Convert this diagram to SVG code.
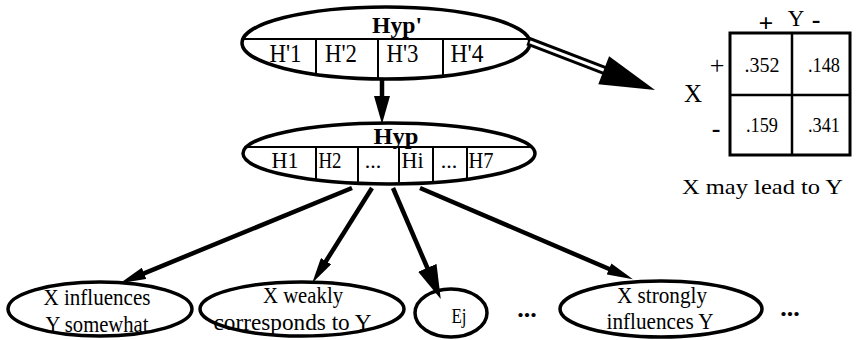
<svg xmlns="http://www.w3.org/2000/svg" width="856" height="340" viewBox="0 0 856 340">
<style>
.ell{fill:none;stroke:#000;stroke-width:3.5}
.cell{stroke:#000;stroke-width:2;fill:none}
.t{font-family:"Liberation Serif","Times New Roman",serif;fill:#000;text-anchor:middle}
.b{font-weight:bold}
.conn{stroke:#000;stroke-width:4.5;fill:none}
</style>
<defs>
<clipPath id="c1"><ellipse cx="386" cy="43" rx="144" ry="36"/></clipPath>
<clipPath id="c2"><ellipse cx="389" cy="153.5" rx="146" ry="30.5"/></clipPath>
<marker id="aS" markerUnits="userSpaceOnUse" markerWidth="26" markerHeight="12" refX="4" refY="6" orient="auto" viewBox="0 0 26 12"><path d="M0,0 L26,6 L0,12 z" fill="#000"/></marker>
<marker id="aM" markerUnits="userSpaceOnUse" markerWidth="28" markerHeight="16" refX="4" refY="8" orient="auto" viewBox="0 0 28 16"><path d="M0,0 L28,8 L0,16 z" fill="#000"/></marker>
<marker id="aL" markerUnits="userSpaceOnUse" markerWidth="34" markerHeight="20" refX="4" refY="10" orient="auto" viewBox="0 0 34 20"><path d="M0,0 L34,10 L0,20 z" fill="#000"/></marker>
</defs>

<g id="hyp-prime">
<ellipse class="ell" cx="386" cy="43" rx="144" ry="36"/>
<g clip-path="url(#c1)">
<line class="cell" x1="240" y1="39" x2="532" y2="39"/>
<line class="cell" x1="316" y1="39" x2="316" y2="80"/>
<line class="cell" x1="378" y1="39" x2="378" y2="80"/>
<line class="cell" x1="443" y1="39" x2="443" y2="80"/>
</g>
<text class="t b" x="397" y="33" font-size="23" textLength="50" lengthAdjust="spacingAndGlyphs">Hyp'</text>
<text class="t" x="285.5" y="62" font-size="25" textLength="32" lengthAdjust="spacingAndGlyphs">H'1</text>
<text class="t" x="341" y="62" font-size="25" textLength="32" lengthAdjust="spacingAndGlyphs">H'2</text>
<text class="t" x="402.5" y="62" font-size="25" textLength="32" lengthAdjust="spacingAndGlyphs">H'3</text>
<text class="t" x="467" y="62" font-size="25" textLength="33" lengthAdjust="spacingAndGlyphs">H'4</text>
</g>

<g id="hyp">
<ellipse class="ell" cx="389" cy="153.5" rx="146" ry="30.5"/>
<g clip-path="url(#c2)">
<line class="cell" x1="240" y1="147" x2="538" y2="147"/>
<line class="cell" x1="316" y1="147" x2="316" y2="186"/>
<line class="cell" x1="358" y1="147" x2="358" y2="186"/>
<line class="cell" x1="399" y1="147" x2="399" y2="186"/>
<line class="cell" x1="433" y1="147" x2="433" y2="186"/>
<line class="cell" x1="467" y1="147" x2="467" y2="186"/>
</g>
<text class="t b" x="396" y="144" font-size="24" textLength="45" lengthAdjust="spacingAndGlyphs">Hyp</text>
<text class="t" x="285" y="168" font-size="24" textLength="27" lengthAdjust="spacingAndGlyphs">H1</text>
<text class="t" x="330" y="168" font-size="24" textLength="23" lengthAdjust="spacingAndGlyphs">H2</text>
<text class="t" x="373" y="168" font-size="22">...</text>
<text class="t" x="412.5" y="168" font-size="24" textLength="22" lengthAdjust="spacingAndGlyphs">Hi</text>
<text class="t" x="449" y="168" font-size="22">...</text>
<text class="t" x="481" y="168" font-size="24" textLength="25" lengthAdjust="spacingAndGlyphs">H7</text>
</g>

<g id="table">
<rect x="730" y="33" width="120" height="122" fill="none" stroke="#000" stroke-width="3"/>
<line x1="792" y1="33" x2="792" y2="155" stroke="#000" stroke-width="2.5"/>
<line x1="730" y1="95" x2="850" y2="95" stroke="#000" stroke-width="2.5"/>
<text class="t" x="762" y="72" font-size="21" textLength="35" lengthAdjust="spacingAndGlyphs">.352</text>
<text class="t" x="824" y="72" font-size="21" textLength="32" lengthAdjust="spacingAndGlyphs">.148</text>
<text class="t" x="762" y="132" font-size="21" textLength="32" lengthAdjust="spacingAndGlyphs">.159</text>
<text class="t" x="824" y="132" font-size="21" textLength="32" lengthAdjust="spacingAndGlyphs">.341</text>
<text class="t b" x="766" y="32" font-size="26">+</text>
<text class="t" x="796" y="26" font-size="23">Y</text>
<text class="t b" x="816" y="28" font-size="26">-</text>
<text class="t" x="717" y="74" font-size="26">+</text>
<text class="t b" x="716" y="137" font-size="26">-</text>
<text class="t" x="693" y="102" font-size="25">X</text>
<text class="t" x="762.5" y="194" font-size="22" textLength="161" lengthAdjust="spacingAndGlyphs">X may lead to Y</text>
</g>

<g id="n-influences">
<ellipse class="ell" cx="100" cy="309" rx="92" ry="27" stroke-width="4"/>
<text class="t" x="97" y="305" font-size="23" textLength="107" lengthAdjust="spacingAndGlyphs">X influences</text>
<text class="t" x="97" y="332" font-size="23" textLength="103" lengthAdjust="spacingAndGlyphs">Y somewhat</text>
</g>
<g id="n-weakly">
<ellipse class="ell" cx="302" cy="309" rx="102" ry="27" stroke-width="4"/>
<text class="t" x="303" y="303" font-size="23" textLength="80" lengthAdjust="spacingAndGlyphs">X weakly</text>
<text class="t" x="292.5" y="330" font-size="23" textLength="158" lengthAdjust="spacingAndGlyphs">corresponds to Y</text>
</g>
<g id="n-ej">
<ellipse class="ell" cx="451" cy="313" rx="36" ry="24" stroke-width="4"/>
<text class="t" x="459" y="323" font-size="22" textLength="15" lengthAdjust="spacingAndGlyphs">Ej</text>
</g>
<text class="t b" x="527" y="317" font-size="26">...</text>
<g id="n-strongly">
<ellipse class="ell" cx="661" cy="309" rx="101" ry="28" stroke-width="4"/>
<text class="t" x="662" y="303" font-size="23" textLength="90" lengthAdjust="spacingAndGlyphs">X strongly</text>
<text class="t" x="660" y="329" font-size="23" textLength="107" lengthAdjust="spacingAndGlyphs">influences Y</text>
</g>
<text class="t b" x="790" y="316" font-size="26">...</text>

<g id="connectors">
<line class="conn" x1="382" y1="79" x2="382" y2="100" marker-end="url(#aM)"/>
<line class="conn" x1="352" y1="188" x2="140.4" y2="274.8" marker-end="url(#aS)"/>
<line class="conn" x1="372" y1="188" x2="323.9" y2="264.5" marker-end="url(#aS)"/>
<line class="conn" x1="393" y1="188" x2="428.9" y2="271.5" marker-end="url(#aL)"/>
<line class="conn" x1="420" y1="188" x2="612.7" y2="270.5" marker-end="url(#aS)"/>
<g id="double-arrow">
<line x1="528" y1="41" x2="606" y2="71" stroke="#000" stroke-width="9"/>
<line x1="530" y1="41.8" x2="606" y2="71" stroke="#fff" stroke-width="3"/>
<polygon points="655,90 598.3,84.3 609.1,56.3" fill="#000"/>
</g>
</g>
</svg>
